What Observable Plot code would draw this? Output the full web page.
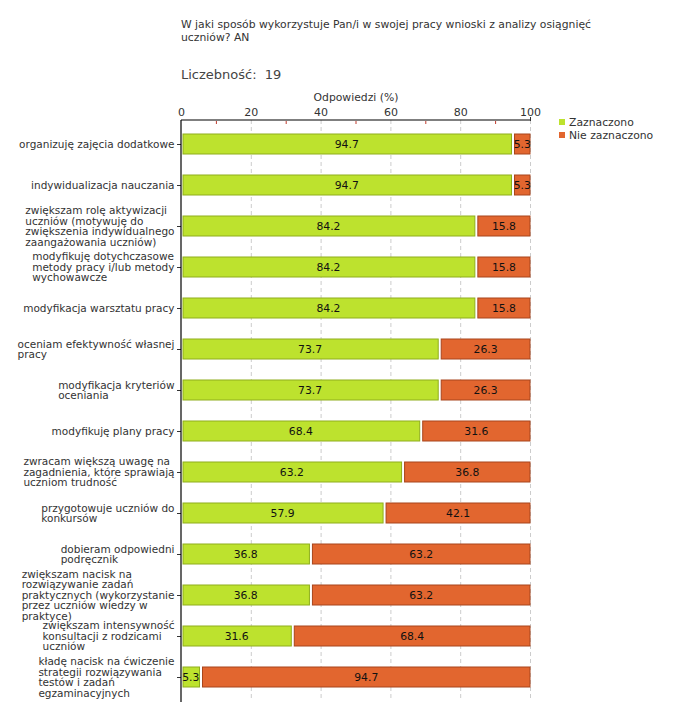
<!DOCTYPE html>
<html>
<head>
<meta charset="utf-8">
<script src="https://cdn.jsdelivr.net/npm/d3@7"></script>
<script src="https://cdn.jsdelivr.net/npm/@observablehq/plot@0.6"></script>
<style>
  body { margin: 0; background: #fff; font-family: "DejaVu Sans", Verdana, sans-serif; }
  #wrap { position: relative; width: 680px; height: 720px; }
  #wrap svg { position: absolute; left: 0; top: 0; }
  .title { position: absolute; left: 181px; top: 19px; font-size: 10.8px; line-height: 12.5px; color: #333; width: 450px; }
  .count { position: absolute; left: 181px; top: 67px; font-size: 13px; color: #444; }
  .legend { position: absolute; left: 559px; top: 116px; font-size: 10.8px; color: #333; line-height: 13px; }
  .legend span.sw { display: inline-block; width: 6px; height: 6px; margin-right: 4px; vertical-align: 1px; }
</style>
</head>
<body>
<div id="wrap">
  <div class="title">W jaki sposób wykorzystuje Pan/i w swojej pracy wnioski z analizy osiągnięć<br>uczniów? AN</div>
  <div class="count">Liczebność:&nbsp; 19</div>
  <div class="legend" id="legend"></div>
</div>
<script>
const categories = [
  "organizuję zajęcia dodatkowe",
  "indywidualizacja nauczania",
  "zwiększam rolę aktywizacji\nuczniów (motywuję do\nzwiększenia indywidualnego\nzaangażowania uczniów)",
  "modyfikuję dotychczasowe\nmetody pracy i/lub metody\nwychowawcze",
  "modyfikacja warsztatu pracy",
  "oceniam efektywność własnej\npracy",
  "modyfikacja kryteriów\noceniania",
  "modyfikuję plany pracy",
  "zwracam większą uwagę na\nzagadnienia, które sprawiają\nuczniom trudność",
  "przygotowuje uczniów do\nkonkursów",
  "dobieram odpowiedni\npodręcznik",
  "zwiększam nacisk na\nrozwiązywanie zadań\npraktycznych (wykorzystanie\nprzez uczniów wiedzy w\npraktyce)",
  "zwiększam intensywność\nkonsultacji z rodzicami\nuczniów",
  "kładę nacisk na ćwiczenie\nstrategii rozwiązywania\ntestów i zadań\negzaminacyjnych"
];
const zaznaczono = [94.7, 94.7, 84.2, 84.2, 84.2, 73.7, 73.7, 68.4, 63.2, 57.9, 36.8, 36.8, 31.6, 5.3];
const nieZaznaczono = [5.3, 5.3, 15.8, 15.8, 15.8, 26.3, 26.3, 31.6, 36.8, 42.1, 63.2, 63.2, 68.4, 94.7];
const seriesNames = ["Zaznaczono", "Nie zaznaczono"];
const majorTicks = [0, 20, 40, 60, 80, 100];
const minorTicks = [10, 30, 50, 70, 90];
const xLabel = "Odpowiedzi (%)";

const green = "#bde22e", greenStroke = "#8fae1c";
const orange = "#e2662f", orangeStroke = "#a8451c";

const rows = categories.map((c, i) => ({cat: c, a: zaznaczono[i], b: nieZaznaczono[i]}));

const chart = Plot.plot({
  width: 680,
  height: 720,
  marginTop: 120,
  marginBottom: 20,
  marginLeft: 181,
  marginRight: 150,
  style: {fontFamily: "DejaVu Sans, Verdana, sans-serif", fontSize: "10px", color: "#333", background: "transparent"},
  x: {domain: [0, 100], axis: null},
  y: {domain: categories, paddingInner: 0.52, paddingOuter: 0.265, axis: null},
  marks: [
    Plot.ruleX(majorTicks.slice(1), {stroke: "#ccc", strokeDasharray: "4,3", strokeWidth: 1}),
    Plot.axisX({anchor: "top", ticks: majorTicks, tickSize: 0, tickPadding: 5, fontSize: 11, label: null, color: "#333"}),
    Plot.axisX({anchor: "top", ticks: minorTicks, tickSize: -3, tickFormat: () => "", stroke: "#c0392b", label: null}),
    Plot.axisX({anchor: "top", ticks: [100], tickSize: 4, tickFormat: () => "", label: null}),
    Plot.text([xLabel], {frameAnchor: "top", dy: -27, fontSize: 10.8, fill: "#333"}),
    Plot.barX(rows, {y: "cat", x1: 0, x2: "a", fill: green, stroke: greenStroke, strokeWidth: 1, insetLeft: 2}),
    Plot.barX(rows, {y: "cat", x1: "a", x2: 100, fill: orange, stroke: orangeStroke, strokeWidth: 1, insetLeft: 3}),
    Plot.text(rows, {y: "cat", x: d => d.a / 2, text: d => d.a.toFixed(1), fontSize: 10.8, fill: "#111"}),
    Plot.text(rows, {y: "cat", x: d => d.a + d.b / 2, text: d => d.b.toFixed(1), fontSize: 10.8, fill: "#111", dx: 1}),
    Plot.axisY({tickSize: 4, tickPadding: 3, fontSize: 10.5, lineHeight: 1.0, label: null, color: "#333"})
  ]
});

document.getElementById("wrap").prepend(chart);

// axis lines (top and left)
const svg = d3.select(chart);
const xs = d3.scaleLinear().domain([0, 100]).range([181, 530]);
svg.append("line").attr("x1", xs(0)).attr("x2", xs(100)).attr("y1", 120).attr("y2", 120)
  .attr("stroke", "#000").attr("stroke-width", 1.2);
svg.append("line").attr("x1", xs(0)).attr("x2", xs(0)).attr("y1", 120).attr("y2", 702)
  .attr("stroke", "#000").attr("stroke-width", 1.2);

// left-align lines within each y-axis label block
chart.querySelectorAll("g[aria-label='y-axis tick label'] text").forEach(t => {
  const bb = t.getBBox();
  const tr = t.getAttribute("transform") || "";
  t.setAttribute("text-anchor", "start");
  t.setAttribute("transform", tr + ` translate(${bb.x},0)`);
});

const lg = document.getElementById("legend");
[[seriesNames[0], green], [seriesNames[1], orange]].forEach(([n, c]) => {
  const d = document.createElement("div");
  d.innerHTML = `<span class="sw" style="background:${c}"></span>${n}`;
  lg.appendChild(d);
});
</script>
</body>
</html>
